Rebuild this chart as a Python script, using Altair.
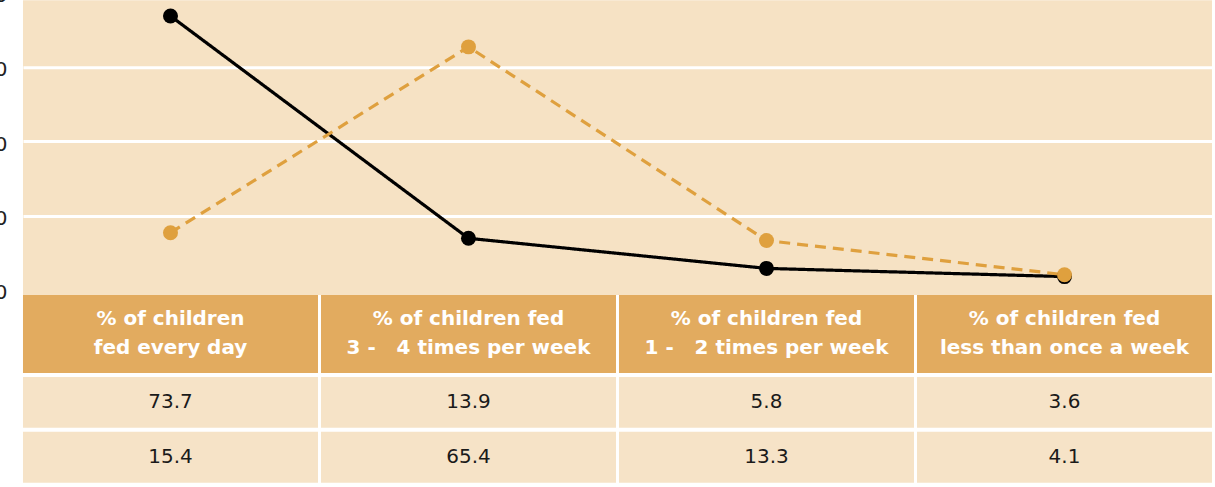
import altair as alt
import pandas as pd

# Column headers of the frequency table (also the x categories of the line chart);
# non-breaking spaces keep the wide gaps inside "3 -   4" and "1 -   2"
headers = [
    "% of children\nfed every day",
    "% of children fed\n3 -\u00a0\u00a0 4 times per week",
    "% of children fed\n1 -\u00a0\u00a0 2 times per week",
    "% of children fed\nless than once a week",
]
col_keys = ["c1", "c2", "c3", "c4"]

# Two series of percentages (solid black, dashed orange)
series_black = [73.7, 13.9, 5.8, 3.6]
series_orange = [15.4, 65.4, 13.3, 4.1]
series_names = ["row1", "row2"]

y_ticks = [0, 20, 40, 60, 80]

BEIGE = "#F6E2C4"
CELL = "#F6E3C7"
HEADER = "#E2AB5F"
ORANGE = "#DFA03E"
FONT = "DejaVu Sans"

W = 1190

long_df = pd.DataFrame({
    "col": col_keys * 2,
    "value": series_black + series_orange,
    "series": [series_names[0]] * 4 + [series_names[1]] * 4,
})

x_band = alt.Scale(type="band", domain=col_keys, paddingInner=0.01, paddingOuter=0)

x_enc = alt.X("col:N", sort=col_keys, scale=x_band, axis=None, bandPosition=0.5)
y_enc = alt.Y(
    "value:Q",
    scale=alt.Scale(domain=[0, 80], range=[290, -7.6], nice=False, zero=True),
    axis=alt.Axis(
        values=y_ticks,
        domain=False,
        ticks=False,
        grid=True,
        gridColor="white",
        gridWidth=3,
        gridOpacity=alt.condition("datum.value === 0", alt.value(0), alt.value(1)),
        labelFont=FONT,
        labelFontSize=20,
        labelColor="#222222",
        labelPadding=16,
        labelOffset=3,
        title=None,
    ),
)
color_enc = alt.Color(
    "series:N",
    scale=alt.Scale(domain=series_names, range=["#000000", ORANGE]),
    legend=None,
)

base = alt.Chart(long_df).encode(x=x_enc, y=y_enc, color=color_enc)

lines = base.mark_line(strokeWidth=3.2).encode(
    strokeDash=alt.StrokeDash(
        "series:N",
        scale=alt.Scale(domain=series_names, range=[[1, 0], [11, 7]]),
        legend=None,
    ),
    order=alt.Order("col:N"),
)
points = base.mark_circle(size=225, opacity=1).encode(
    order=alt.Order("series:N", sort="ascending")
)

line_chart = alt.layer(lines, points).properties(
    width=W, height=295, view=alt.ViewBackground(fill=BEIGE, stroke=None)
)

# Header row of the table
header_df = pd.DataFrame({"col": col_keys, "label": headers})
hx = alt.X("col:N", sort=col_keys, scale=x_band, axis=None)
header_rect = alt.Chart(header_df).mark_rect(color=HEADER).encode(x=hx)
header_text = alt.Chart(header_df).mark_text(
    color="white", font=FONT, fontSize=20, fontWeight="bold",
    lineBreak="\n", lineHeight=29, baseline="middle", align="center", dy=-15,
).encode(x=alt.X("col:N", sort=col_keys, scale=x_band, axis=None, bandPosition=0.5),
         text="label:N")
header_chart = alt.layer(header_rect, header_text).properties(width=W, height=78)

# Value rows of the table
body_df = pd.DataFrame({
    "col": col_keys * 2,
    "row": ["r1"] * 4 + ["r2"] * 4,
    "value": series_black + series_orange,
})
row_scale = alt.Scale(type="band", domain=["r1", "r2"], paddingInner=4 / 55, paddingOuter=4 / 55)
body_rect = alt.Chart(body_df).mark_rect(color=CELL).encode(
    x=hx, y=alt.Y("row:N", scale=row_scale, axis=None)
)
body_text = alt.Chart(body_df).mark_text(
    color="#1a1a1a", font=FONT, fontSize=20, baseline="middle", align="center"
).encode(
    x=alt.X("col:N", sort=col_keys, scale=x_band, axis=None, bandPosition=0.5),
    y=alt.Y("row:N", scale=row_scale, axis=None, bandPosition=0.5),
    text=alt.Text("value:Q", format=".1f"),
)
body_chart = alt.layer(body_rect, body_text).properties(width=W, height=114)

# The y-axis labels and the top gridline reach past the page edge, so the
# padding on those sides is negative to keep the plot area in place.
chart = (
    alt.vconcat(line_chart, header_chart, body_chart, spacing=0)
    .properties(
        bounds="flush",
        autosize=alt.AutoSizeParams(type="pad"),
        padding={"left": -19, "top": -15, "right": 3, "bottom": 0},
        background="white",
    )
    .configure_view(stroke=None)
)

chart.save("out.html", embed_options={"renderer": "svg", "actions": False})
